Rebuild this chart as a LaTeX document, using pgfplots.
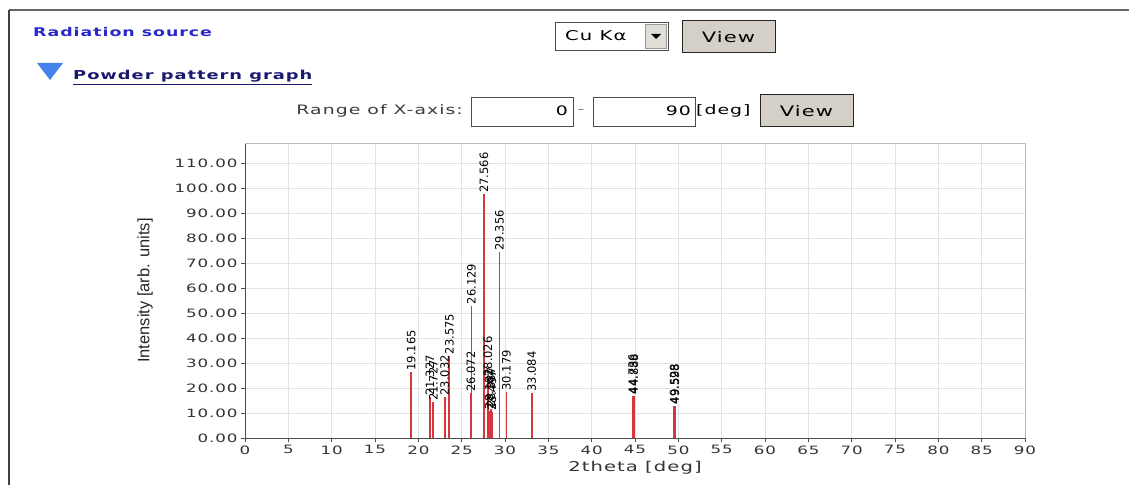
\documentclass[border=0pt]{standalone}
\usepackage{fontspec}
\usepackage{pgfplots}
\pgfplotsset{compat=1.18}
\setmainfont{DejaVu Sans}
\newfontfamily\uifont{DejaVu Sans}[FakeStretch=1.45,LetterSpace=8]
\newfontfamily\peakfont{DejaVu Sans}
\newfontfamily\ylabfont{Liberation Sans}
\definecolor{peakred}{RGB}{215,55,60}
\definecolor{radblue}{RGB}{40,40,205}
\definecolor{navyblue}{RGB}{25,25,110}
\definecolor{triblue}{RGB}{70,130,235}
\definecolor{btngray}{RGB}{212,208,200}
\definecolor{txtgray}{RGB}{60,60,60}
\begin{document}
\begin{tikzpicture}[x=1pt,y=1pt]
\path[use as bounding box] (0,0) rectangle (1129,485);
% page frame
\draw[line width=1.5pt, black!60] (9,475) -- (1129,475);
\draw[line width=1.5pt, black!75] (9,475) -- (9,0);
% header
\node[anchor=west, text=radblue, font=\uifont\bfseries\fontsize{12}{14}\selectfont, inner sep=0pt] at (33,453) {Radiation source};
\draw[black!70, fill=white] (555,435) rectangle (668,463);
\node[anchor=west, font=\uifont\fontsize{13.5}{15}\selectfont, inner sep=0pt] at (565,449) {Cu Kα};
\draw[black!40, fill=btngray!70] (645,437) rectangle (666,461);
\fill[black] (651,451) -- (661,451) -- (656,446) -- cycle;
\draw[black!85, fill=btngray, line width=1pt] (682,432) rectangle (775,464);
\node[font=\uifont\fontsize{14.5}{16}\selectfont, inner sep=0pt] at (728.5,448) {View};
\fill[triblue] (37,422) -- (63,422) -- (50,405) -- cycle;
\node[anchor=base west, text=navyblue, font=\uifont\bfseries\fontsize{12.3}{14}\selectfont, inner sep=0pt] at (73,405) {\underline{Powder pattern graph}};
\node[anchor=east, text=txtgray, font=\uifont\fontsize{13}{15}\selectfont, inner sep=0pt] at (463,374) {Range of X-axis:};
\draw[black!70, fill=white] (471,359) rectangle (573,388);
\node[anchor=east, font=\uifont\fontsize{13}{15}\selectfont, inner sep=0pt] at (568,374) {0};
\node[font=\uifont\fontsize{13}{15}\selectfont, inner sep=0pt, text=black!50] at (581,374) {-};
\draw[black!70, fill=white] (593,359) rectangle (695,388);
\node[anchor=east, font=\uifont\fontsize{13}{15}\selectfont, inner sep=0pt] at (691,374) {90};
\node[anchor=west, font=\uifont\fontsize{13}{15}\selectfont, inner sep=0pt] at (696,374) {[deg]};
\draw[black!85, fill=btngray, line width=1pt] (760,358) rectangle (853,390);
\node[font=\uifont\fontsize{14.5}{16}\selectfont, inner sep=0pt] at (806.5,374) {View};
% chart
\begin{axis}[
  at={(245pt,47pt)}, anchor=south west,
  scale only axis, width=780pt, height=295pt,
  xmin=0, xmax=90, ymin=0, ymax=118,
  xtick={0,5,...,90}, ytick={0,10,...,110},
  axis lines=left, axis line style={-, draw=black!70, line width=0.8pt},
  tick align=outside, major tick length=4pt,
  tick style={draw=black!70, line width=0.6pt},
  grid=major, major grid style={draw=gray!22, line width=0.6pt},
  /pgf/number format/assume math mode=true,
  ticklabel style={font=\uifont\fontsize{11.5}{12}\selectfont, text=black!80},
  yticklabel style={/pgf/number format/.cd, fixed, fixed zerofill, precision=2},
  xticklabel style={/pgf/number format/.cd, fixed, precision=0},
  xlabel={2theta [deg]},
  xlabel style={font=\uifont\fontsize{13.5}{15}\selectfont, text=black!80, at={(axis description cs:0.5,0)}, anchor=north, yshift=-20pt},
  ylabel={Intensity [arb. units]},
  ylabel style={font=\ylabfont\fontsize{16.5}{18}\selectfont, text=black!85, at={(axis description cs:-0.128,0.5)}, anchor=center},
  clip=false,
]
\draw[gray!55, line width=0.8pt] (rel axis cs:0,1) -- (rel axis cs:1,1) -- (rel axis cs:1,0);
\addplot[ycomb, draw=peakred, line width=1.8pt, mark=none,
  point meta=explicit symbolic,
  nodes near coords={\pgfplotspointmeta},
  every node near coord/.style={rotate=90, anchor=west, font=\peakfont\fontsize{11.5}{12}\selectfont, inner sep=0.5pt, text=black}]
  table[meta=label] {
x y label
19.165 26.5 19.165
21.327 16.5 21.327
21.727 14.5 21.727
23.032 16.5 23.032
23.575 33.0 23.575
26.072 18.0 26.072
26.129 53.0 26.129
27.566 97.5 27.566
28.026 24.0 28.026
28.182 11.0 28.182
28.387 11.5 28.387
28.497 10.5 28.497
29.356 74.5 29.356
30.179 18.5 30.179
33.084 18.0 33.084
44.736 17.0 44.736
44.888 17.0 44.888
49.528 13.0 49.528
49.598 13.0 49.598
};
\end{axis}
\end{tikzpicture}
\end{document}
